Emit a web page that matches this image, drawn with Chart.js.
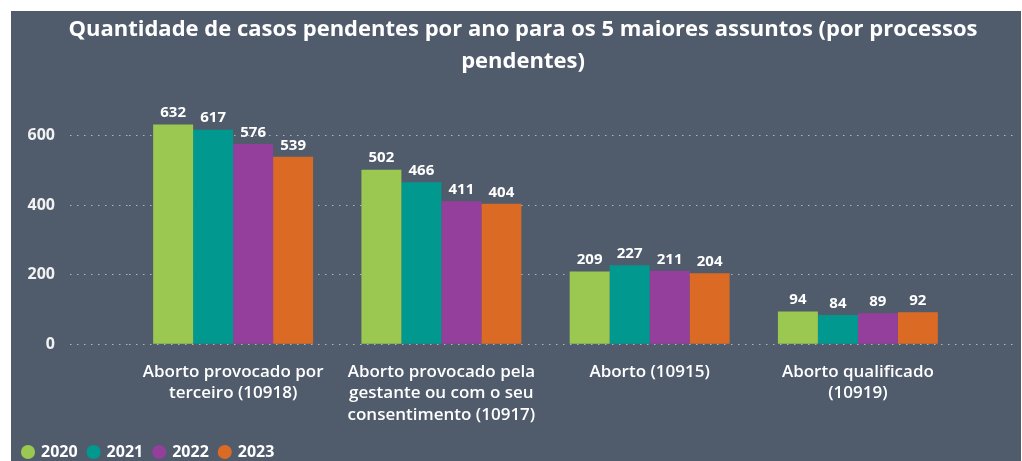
<!DOCTYPE html>
<html>
<head>
<meta charset="utf-8">
<script src="https://cdn.jsdelivr.net/npm/chart.js@4/dist/chart.umd.min.js"></script>
<style>
  html, body { margin: 0; padding: 0; background: #ffffff; overflow: hidden; }
  #wrap {
    position: absolute; left: 11px; top: 11px;
    width: 1010px; height: 450px;
    background: #505b6c;
    overflow: hidden;
  }
</style>
</head>
<body>
<div id="wrap"><canvas id="chart" width="1010" height="469"></canvas></div>
<script>
// Casos pendentes por ano, 5 maiores assuntos
const categories = [
  ['Aborto provocado por', 'terceiro (10918)'],
  ['Aborto provocado pela', 'gestante ou com o seu', 'consentimento (10917)'],
  'Aborto (10915)',
  ['Aborto qualificado', '(10919)'],
];
const years = ['2020', '2021', '2022', '2023'];
const values2020 = [632, 502, 209, 94];
const values2021 = [617, 466, 227, 84];
const values2022 = [576, 411, 211, 89];
const values2023 = [539, 404, 204, 92];
const yTicks = [0, 200, 400, 600];

const colors = ['#9bc850', '#01998f', '#943f9c', '#db6b24'];
const FONT = "'Open Sans', sans-serif";
const DASH = [1.5, 5.5];
const GRID = 'rgba(255,255,255,0.55)';

// values written above each bar
const barValues = {
  id: 'barValues',
  afterDatasetsDraw(chart) {
    const ctx = chart.ctx;
    ctx.save();
    ctx.font = `bold 15px ${FONT}`;
    ctx.fillStyle = '#ffffff';
    ctx.textAlign = 'center';
    ctx.textBaseline = 'bottom';
    chart.data.datasets.forEach((ds, i) => {
      chart.getDatasetMeta(i).data.forEach((bar, j) => {
        ctx.fillText(ds.data[j], bar.x, bar.y - 4);
      });
    });
    ctx.restore();
  },
};

// nudge the legend into the bottom-left corner (like the Power BI original)
const legendNudge = {
  id: 'legendNudge',
  afterLayout(chart) {
    const lg = chart.legend;
    lg.left -= 13; lg.right -= 13;
    lg.top -= 10; lg.bottom -= 10;
  },
};

new Chart(document.getElementById('chart'), {
  type: 'bar',
  data: {
    labels: categories,
    datasets: [values2020, values2021, values2022, values2023].map((d, i) => ({
      label: years[i],
      data: d,
      backgroundColor: colors[i],
      borderWidth: 0,
      categoryPercentage: 0.768,
      barPercentage: 1.0,
    })),
  },
  options: {
    responsive: false,
    animation: false,
    layout: { padding: { left: 14, right: 0, top: 0, bottom: 0 } },
    plugins: {
      title: {
        display: true,
        text: ['Quantidade de casos pendentes por ano para os 5 maiores assuntos (por processos', 'pendentes)'],
        color: '#ffffff',
        font: { family: FONT, size: 22, weight: 'bold', lineHeight: 1.45 },
        padding: { top: 3, bottom: 23 },
      },
      legend: {
        position: 'bottom',
        align: 'start',
        labels: {
          usePointStyle: true,
          pointStyle: 'circle',
          boxWidth: 10,
          boxHeight: 10,
          color: '#ffffff',
          padding: 11,
          font: { family: FONT, size: 16, weight: 'bold' },
        },
      },
      tooltip: { enabled: false },
    },
    scales: {
      x: {
        grid: { display: false, drawTicks: false },
        border: { display: false },
        ticks: {
          color: '#ffffff',
          padding: 17,
          maxRotation: 0,
          autoSkip: false,
          font: { family: FONT, size: 17, weight: '600', lineHeight: 1.27 },
        },
      },
      y: {
        min: 0,
        max: 700,
        afterBuildTicks: s => { s.ticks = yTicks.map(v => ({ value: v })); },
        afterFit: s => { s.width = 104; },
        grid: { color: GRID, tickColor: GRID, tickLength: 59, tickBorderDash: DASH },
        border: { display: false, dash: DASH },
        ticks: {
          color: '#f2f2f2',
          padding: 15,
          font: { family: FONT, size: 16, weight: 'bold' },
        },
      },
      y2: {
        position: 'right',
        min: 0,
        max: 700,
        afterBuildTicks: s => { s.ticks = yTicks.map(v => ({ value: v })); },
        afterFit: s => { s.width = 59; },
        grid: { color: GRID, tickColor: GRID, tickLength: 54, tickBorderDash: DASH, drawOnChartArea: false },
        border: { display: false, dash: DASH },
        ticks: { display: false },
      },
    },
  },
  plugins: [barValues, legendNudge],
});
</script>
</body>
</html>
